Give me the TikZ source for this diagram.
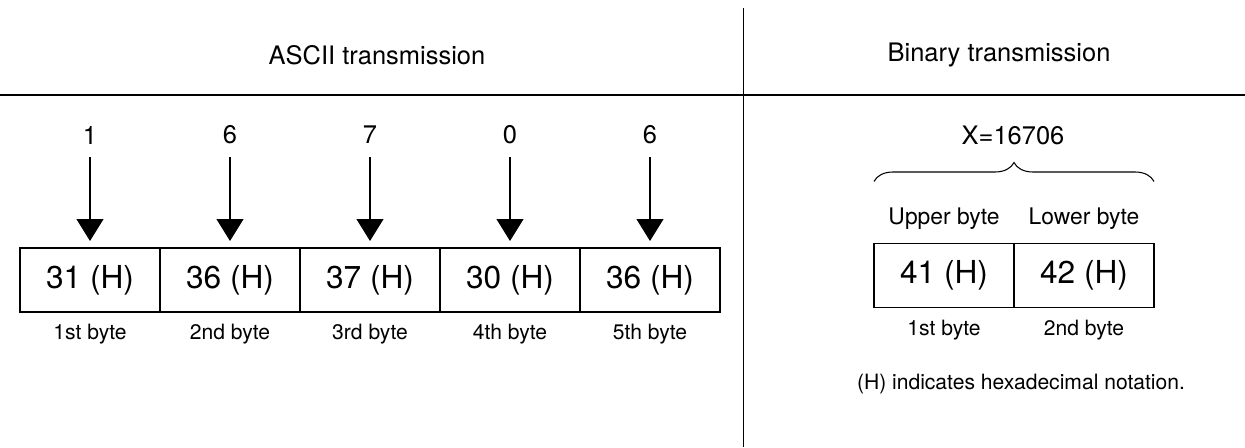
\documentclass[tikz,border=0pt]{standalone}
\usepackage{fontspec}
\setmainfont{TeX Gyre Heros}
\usetikzlibrary{arrows.meta,positioning,decorations.pathreplacing}

\begin{document}
\begin{tikzpicture}[line join=miter,
  every node/.style={inner sep=0pt,outer sep=0pt},
  title/.style={font=\fontsize{14.5}{17}\selectfont},
  digit/.style={font=\fontsize{14.5}{17}\selectfont},
  bytebox/.style={draw,line width=0.6pt,minimum width=2.8cm,minimum height=1.28cm,font=\fontsize{18}{21}\selectfont},
  bytelbl/.style={font=\fontsize{12}{14}\selectfont},
  feed/.style={-{Triangle[width=0.54cm,length=0.44cm]},line width=0.6pt,shorten <=0.26cm,shorten >=0.14cm}]
  \useasboundingbox (0,0) rectangle (24.9,8.94);
  % frame lines
  \draw[line width=0.5pt] (14.86,8.78) -- (14.86,0);
  \draw[line width=1pt] (0,7.04) -- (24.9,7.04);
  \node[title] (asc) at (7.54,7.84) {ASCII transmission};
  \node[title] (bin) at (19.98,7.84) {Binary transmission};
  % ASCII side: one character per byte
  \foreach \d/\h/\n [count=\i] in {1/31/1st,6/36/2nd,7/37/3rd,0/30/4th,6/36/5th} {
    \node[bytebox] (b\i) at ({2.8*\i-1.0},3.34) {\h\ (H)};
    \node[digit] (d\i) at ({2.8*\i-1.0},6.24) {\d};
    \node[bytelbl,below=7pt of b\i] (l\i) {\n\ byte};
    \draw[feed] (d\i) -- (b\i);
  }
  % binary side
  \node[bytebox] (ub) at (18.88,3.43) {41 (H)};
  \node[bytebox,right=0pt of ub] (lb) {42 (H)};
  \node[bytelbl,font=\fontsize{13}{15}\selectfont,above=8pt of ub] (uname) {Upper byte};
  \node[bytelbl,font=\fontsize{13}{15}\selectfont,above=8pt of lb] (lname) {Lower byte};
  \node[bytelbl,below=7pt of ub] (ul) {1st byte};
  \node[bytelbl,below=7pt of lb] (ll) {2nd byte};
  \node[digit] (xval) at (20.26,6.24) {X=16706};
  \draw[line width=0.6pt,decorate,decoration={brace,amplitude=0.38cm}]
    ([yshift=1.24cm]ub.north west) -- ([yshift=1.24cm]lb.north east);
  \node[bytelbl,anchor=west] (note) at (17.14,1.26) {(H) indicates hexadecimal notation.};
\end{tikzpicture}
\end{document}
